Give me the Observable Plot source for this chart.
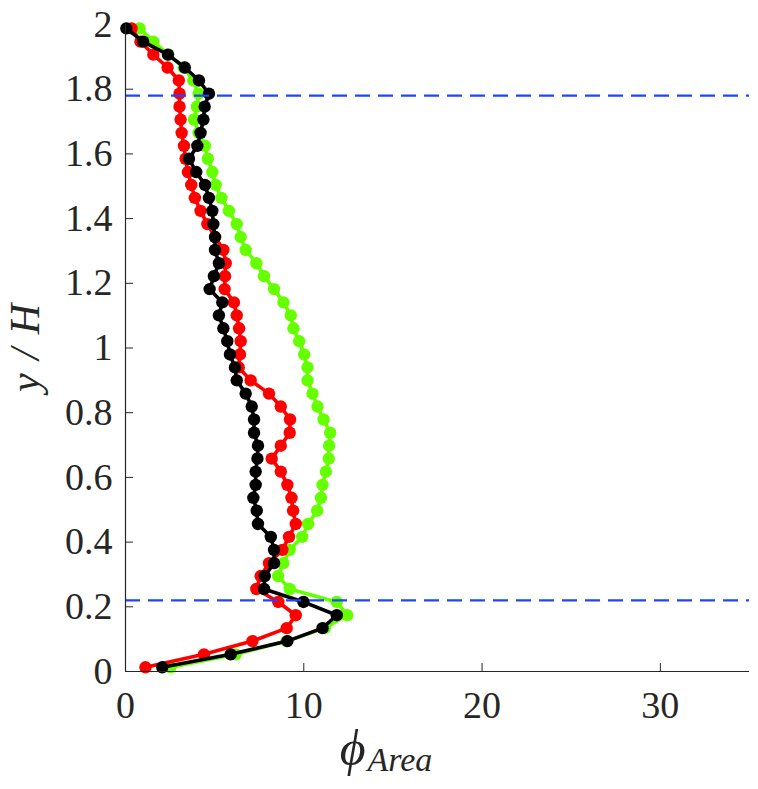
<!DOCTYPE html>
<html><head><meta charset="utf-8">
<script src="https://cdn.jsdelivr.net/npm/d3@7"></script>
<script src="https://cdn.jsdelivr.net/npm/@observablehq/plot@0.6"></script>
<style>body{margin:0;background:#fff}</style>
</head><body><div id="chart"></div>
<script>
// y/H positions of the sampled points (shared by all three profiles)
const yPos = [0.013,0.053,0.094,0.134,0.174,0.215,0.255,0.295,0.335,0.376,
  0.416,0.456,0.497,0.537,0.577,0.618,0.658,0.698,0.738,0.779,
  0.819,0.859,0.900,0.940,0.980,1.021,1.061,1.101,1.141,1.182,
  1.222,1.262,1.303,1.343,1.383,1.424,1.464,1.504,1.544,1.585,
  1.625,1.665,1.706,1.746,1.786,1.827,1.867,1.907,1.947,1.988];
// phi_Area values per profile
const greenX = [2.53,6.18,9.04,11.18,12.43,11.85,9.21,8.56,8.85,9.21,
  9.91,10.24,10.75,10.96,11.05,11.24,11.40,11.42,11.48,11.11,
  10.77,10.49,10.21,10.21,10.02,9.74,9.42,9.27,8.86,8.33,
  7.77,7.34,6.74,6.46,6.24,5.80,5.38,5.06,4.87,4.62,
  4.45,4.10,3.84,4.00,4.10,3.80,3.26,2.40,1.56,0.79];
const redX = [1.12,4.40,7.12,9.04,9.55,8.57,7.34,7.58,8.05,8.80,
  9.17,9.55,9.40,9.31,9.08,8.71,8.20,8.71,9.21,9.23,
  8.71,8.05,7.02,6.35,6.42,6.46,6.37,6.24,6.08,5.56,
  5.58,5.62,5.49,5.03,4.59,4.21,3.89,3.69,3.50,3.37,
  3.28,3.15,3.09,3.03,3.03,2.99,2.36,1.56,0.84,0.34];
const blackX = [2.06,5.90,9.08,11.05,11.85,9.98,7.77,7.81,8.33,8.33,
  8.15,7.43,7.36,7.17,7.30,7.30,7.40,7.43,7.21,7.21,
  7.08,6.74,6.24,6.14,5.86,5.71,5.49,5.24,5.43,4.72,
  4.96,5.24,5.02,5.02,4.93,4.87,4.68,4.46,3.97,3.56,
  4.03,4.21,4.37,4.44,4.68,4.12,3.33,2.38,0.99,0.05];
const seriesNames = ["green","red","black"];
const seriesColors = ["#66ff00","#ff0000","#000000"];
const seriesValues = [greenX, redX, blackX];
const xTicks = [0,10,20,30];
const yTicks = [0,0.2,0.4,0.6,0.8,1,1.2,1.4,1.6,1.8,2];
const refLines = [0.22, 1.78];

const axisColor = "#262626";
const serif = "'Liberation Serif', 'Times New Roman', serif";
const fmt = d => String(+d.toFixed(1));
const seriesMarks = seriesNames.flatMap((name, k) => {
  const rows = seriesValues[k].map((x, i) => ({x, y: yPos[i]}));
  return [
    Plot.line(rows, {x: "x", y: "y", stroke: seriesColors[k], strokeWidth: 3.6, curve: "linear"}),
    Plot.dot(rows, {x: "x", y: "y", r: 6.2, fill: seriesColors[k], stroke: null})
  ];
});

const chart = Plot.plot({
  width: 758, height: 789,
  marginLeft: 125, marginRight: 9, marginTop: 24, marginBottom: 118,
  style: {fontFamily: serif, fontSize: "38px", color: axisColor, background: "#fff", overflow: "visible"},
  x: {domain: [0, 35]},
  y: {domain: [0, 2]},
  marks: [
    Plot.axisX({ticks: xTicks, tickSize: 0, tickPadding: 20, label: null, fontSize: 38, fontFamily: serif, tickFormat: fmt}),
    Plot.axisX({ticks: xTicks, tickSize: 8, dy: -8, tickFormat: () => "", label: null, stroke: axisColor}),
    Plot.axisY({ticks: yTicks, tickSize: 0, tickPadding: 13, label: null, fontSize: 38, fontFamily: serif, tickFormat: fmt}),
    Plot.axisY({ticks: yTicks, tickSize: 8, dx: 8, tickFormat: () => "", label: null, stroke: axisColor}),
    ...seriesMarks,
    Plot.ruleY(refLines, {stroke: "#1f45ff", strokeWidth: 2.2, strokeDasharray: "15,8"}),
    Plot.ruleX([0], {stroke: axisColor, strokeWidth: 1.2}),
    Plot.ruleY([0], {stroke: axisColor, strokeWidth: 1.2})
  ]
});

const svg = d3.select(chart);
svg.append("text")
  .attr("transform", "translate(39,348) rotate(-90)")
  .attr("text-anchor", "middle")
  .attr("font-family", serif)
  .attr("font-style", "italic")
  .attr("font-size", 42)
  .attr("fill", axisColor)
  .attr("textLength", 88).attr("lengthAdjust", "spacing")
  .text("y/H");
const xl = svg.append("text")
  .attr("x", 386).attr("y", 765)
  .attr("font-family", serif)
  .attr("font-style", "italic")
  .attr("fill", axisColor);
xl.append("tspan").attr("font-size", 50).text("ϕ");
xl.append("tspan").attr("font-size", 34).attr("dx", 2).attr("dy", 6).text("Area");

document.getElementById("chart").appendChild(chart);
</script>
</body></html>
